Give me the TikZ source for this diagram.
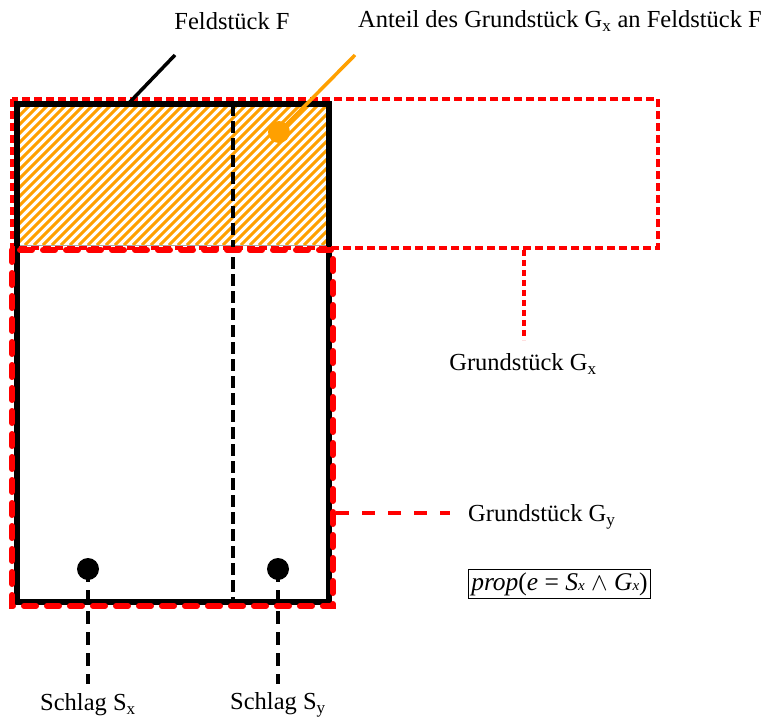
\documentclass[tikz,border=0pt]{standalone}
\usepackage{fontspec}
\setmainfont{Liberation Serif}
\definecolor{ora}{RGB}{255,160,0}
\begin{document}
\begin{tikzpicture}[x=1pt,y=-1pt,
  lbl/.style={inner sep=0pt,font=\fontsize{24.5}{28}\selectfont},
  blackdash/.style={black,line width=3.5pt,dash pattern=on 12pt off 5pt},
  gx/.style={red,line width=3.5pt,dash pattern=on 8pt off 4pt},
  gy/.style={red,line width=6pt,line cap=round,dash pattern=on 12pt off 11pt},
  dotb/.style={circle,fill=black,inner sep=0pt,minimum size=22pt}]
\useasboundingbox (0,0) rectangle (772,718);
% hatching
\begin{scope}
\clip (17,104) rectangle (329,245);
\foreach \i in {-200,-191,...,340}
  \draw[ora,line width=3pt] (\i,245) -- ++(150,-150);
\end{scope}
\draw[gray!70,line width=1pt] (17,245) -- (329,245);
% field F
\draw[black,line width=6pt] (17,104) rectangle (329,602);
\coordinate (ftop) at (233,104);
\coordinate (fbot) at (233,602);
\draw[blackdash] (ftop) -- (fbot);
% Grundstueck Gx
\draw[gx] (12,99) rectangle (658,248);
% Grundstueck Gy
\draw[gy] (12,250) rectangle (333,606);
% labels
\node[lbl] (lF) at (232,21) {Feldstück F};
\node[lbl] (lA) at (560,21) {Anteil des Grundstück G\textsubscript{x} an Feldstück F};
\node[lbl] (lGx) at (523,364) {Grundstück G\textsubscript{x}};
\node[lbl,anchor=west] (lGy) at (468,517) {Grundstück G\textsubscript{y}};
\node[draw,line width=0.8pt,inner sep=3pt,font=\fontsize{25.5}{28}\selectfont] (prop) at (559.5,584)
  {\textit{prop}(\textit{e} = \textit{S}{\fontsize{15}{15}\selectfont\textit{x}} $\wedge$ \textit{G}{\fontsize{15}{15}\selectfont\textit{x}})};
\node[lbl] (lSx) at (88,705) {Schlag S\textsubscript{x}};
\node[lbl] (lSy) at (278,705) {Schlag S\textsubscript{y}};
% leaders
\coordinate (fA) at (128,104);
\coordinate (fB) at (175,55);
\draw[black,line width=3.5pt] (fA) -- (fB);
\node[circle,fill=ora,inner sep=0pt,minimum size=22pt] (od) at (279,132) {};
\coordinate (oB) at (355,55);
\draw[ora,line width=3.5pt] (od.center) -- (oB);
\coordinate (gxA) at (524,250);
\coordinate (gxB) at (524,340);
\draw[red,line width=3.5pt,dash pattern=on 6pt off 4pt] (gxA) -- (gxB);
\coordinate (gyA) at (336,513);
\coordinate (gyB) at (450,513);
\draw[red,line width=4.5pt,dash pattern=on 13pt off 13pt] (gyA) -- (gyB);
% Schlaege
\node[dotb] (sx) at (88,569) {};
\node[dotb] (sy) at (278,569) {};
\coordinate (sxe) at (88,684);
\coordinate (sye) at (278,684);
\draw[black,line width=3.5pt,dash pattern=on 13pt off 8pt] (sx.center) -- (sxe);
\draw[black,line width=3.5pt,dash pattern=on 13pt off 8pt] (sy.center) -- (sye);
\end{tikzpicture}
\end{document}
